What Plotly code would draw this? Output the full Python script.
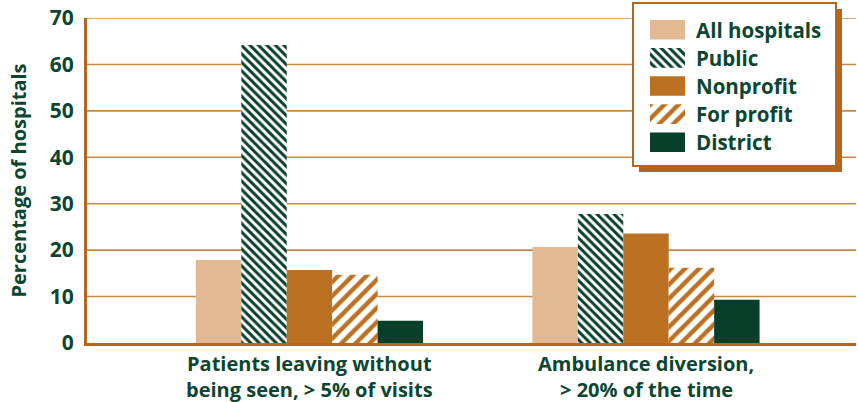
import plotly.graph_objects as go

# Data
categories = ["Patients leaving without<br>being seen, > 5% of visits",
              "Ambulance diversion,<br>> 20% of the time"]
series_names = ["All hospitals", "Public", "Nonprofit", "For profit", "District"]
all_hospitals = [17.9, 20.7]
public = [64.2, 27.8]
nonprofit = [15.7, 23.6]
for_profit = [14.7, 16.2]
district = [4.8, 9.3]
y_ticks = [0, 10, 20, 30, 40, 50, 60, 70]

series_values = [all_hospitals, public, nonprofit, for_profit, district]

GREEN = "#083F2B"
TAN = "#E3B994"
ORANGE = "#BC7122"
AXIS = "#B5651D"
GRID = "#C98845"
TEXT = "#0C4631"
FONT = "Open Sans"

styles = [
    dict(color=TAN),
    dict(color="white", pattern=dict(shape="\\", fgcolor=GREEN, bgcolor="white",
                                     fgopacity=1, size=6, solidity=0.5,
                                     fillmode="replace")),
    dict(color=ORANGE),
    dict(color="white", pattern=dict(shape="/", fgcolor=ORANGE, bgcolor="white",
                                     fgopacity=1, size=10, solidity=0.45,
                                     fillmode="replace")),
    dict(color=GREEN),
]

fig = go.Figure()

for name, vals, st in zip(series_names, series_values, styles):
    fig.add_trace(go.Bar(
        x=categories, y=vals, name=name, marker=dict(line=dict(width=0), **st),
        showlegend=False, xaxis="x", yaxis="y",
    ))

# Category labels, one annotation per line for tighter leading
line_y = [(343 - 363) / 325, (343 - 389) / 325]
for cat in categories:
    for text, yy in zip(cat.split("<br>"), line_y):
        fig.add_annotation(
            x=cat, xref="x", y=yy, yref="paper", text=text, showarrow=False,
            xanchor="center", yanchor="middle",
            font=dict(family=FONT, size=20, color=TEXT, weight="bold"),
        )

# Legend swatches as bars on a small inset axis
for i, (name, st) in enumerate(zip(series_names, styles)):
    fig.add_trace(go.Bar(
        x=[1], y=[i], orientation="h", width=0.696, name=name,
        marker=dict(line=dict(width=0), **st),
        showlegend=False, xaxis="x2", yaxis="y2", hoverinfo="skip",
    ))
    fig.add_annotation(
        x=(694 - 87) / 769, xref="paper", y=i, yref="y2",
        text=name, showarrow=False, xanchor="left", yanchor="middle",
        font=dict(family=FONT, size=20.5, color=TEXT, weight="bold"),
    )

# Horizontal gridlines
for v in y_ticks[1:]:
    fig.add_shape(type="line", xref="paper", x0=0, x1=1, yref="y", y0=v, y1=v,
                  line=dict(color=GRID, width=1.6), layer="below")

# Legend frame with drop shadow
fig.add_shape(type="rect", xref="paper", yref="paper",
              x0=(639 - 87) / 769, x1=(842 - 87) / 769,
              y0=(343 - 172) / 325, y1=(343 - 9) / 325,
              fillcolor=AXIS, line=dict(width=0), layer="below")
fig.add_shape(type="rect", xref="paper", yref="paper",
              x0=(633 - 87) / 769, x1=(836 - 87) / 769,
              y0=(343 - 166) / 325, y1=(343 - 3) / 325,
              fillcolor="white", line=dict(color=AXIS, width=2), layer="below")

fig.update_layout(
    width=858, height=402,
    margin=dict(l=87, r=2, t=18, b=59),
    plot_bgcolor="white", paper_bgcolor="white",
    barmode="group", bargap=0.325, bargroupgap=0,
    xaxis=dict(
        type="category", range=[-0.661, 1.624], showgrid=False,
        showline=True, linecolor=AXIS, linewidth=3, ticks="",
        automargin=False, showticklabels=False,
    ),
    yaxis=dict(
        range=[0, 70], tickvals=y_ticks, showgrid=False, zeroline=False,
        showline=True, linecolor=AXIS, linewidth=3, ticks="",
        ticklabelstandoff=6, automargin=False,
        tickfont=dict(family=FONT, size=21, color=TEXT, weight="bold"),
        title=dict(text="Percentage of hospitals", standoff=18,
                   font=dict(family=FONT, size=20, color=TEXT, weight="bold")),
    ),
    xaxis2=dict(domain=[(650 - 87) / 769, (685 - 87) / 769], range=[0, 1],
                visible=False, fixedrange=True),
    yaxis2=dict(domain=[(343 - 152) / 325, (343 - 20) / 325],
                range=[4.348, -0.348], visible=False, fixedrange=True,
                anchor="x2"),
)

fig.write_html("out.html")
